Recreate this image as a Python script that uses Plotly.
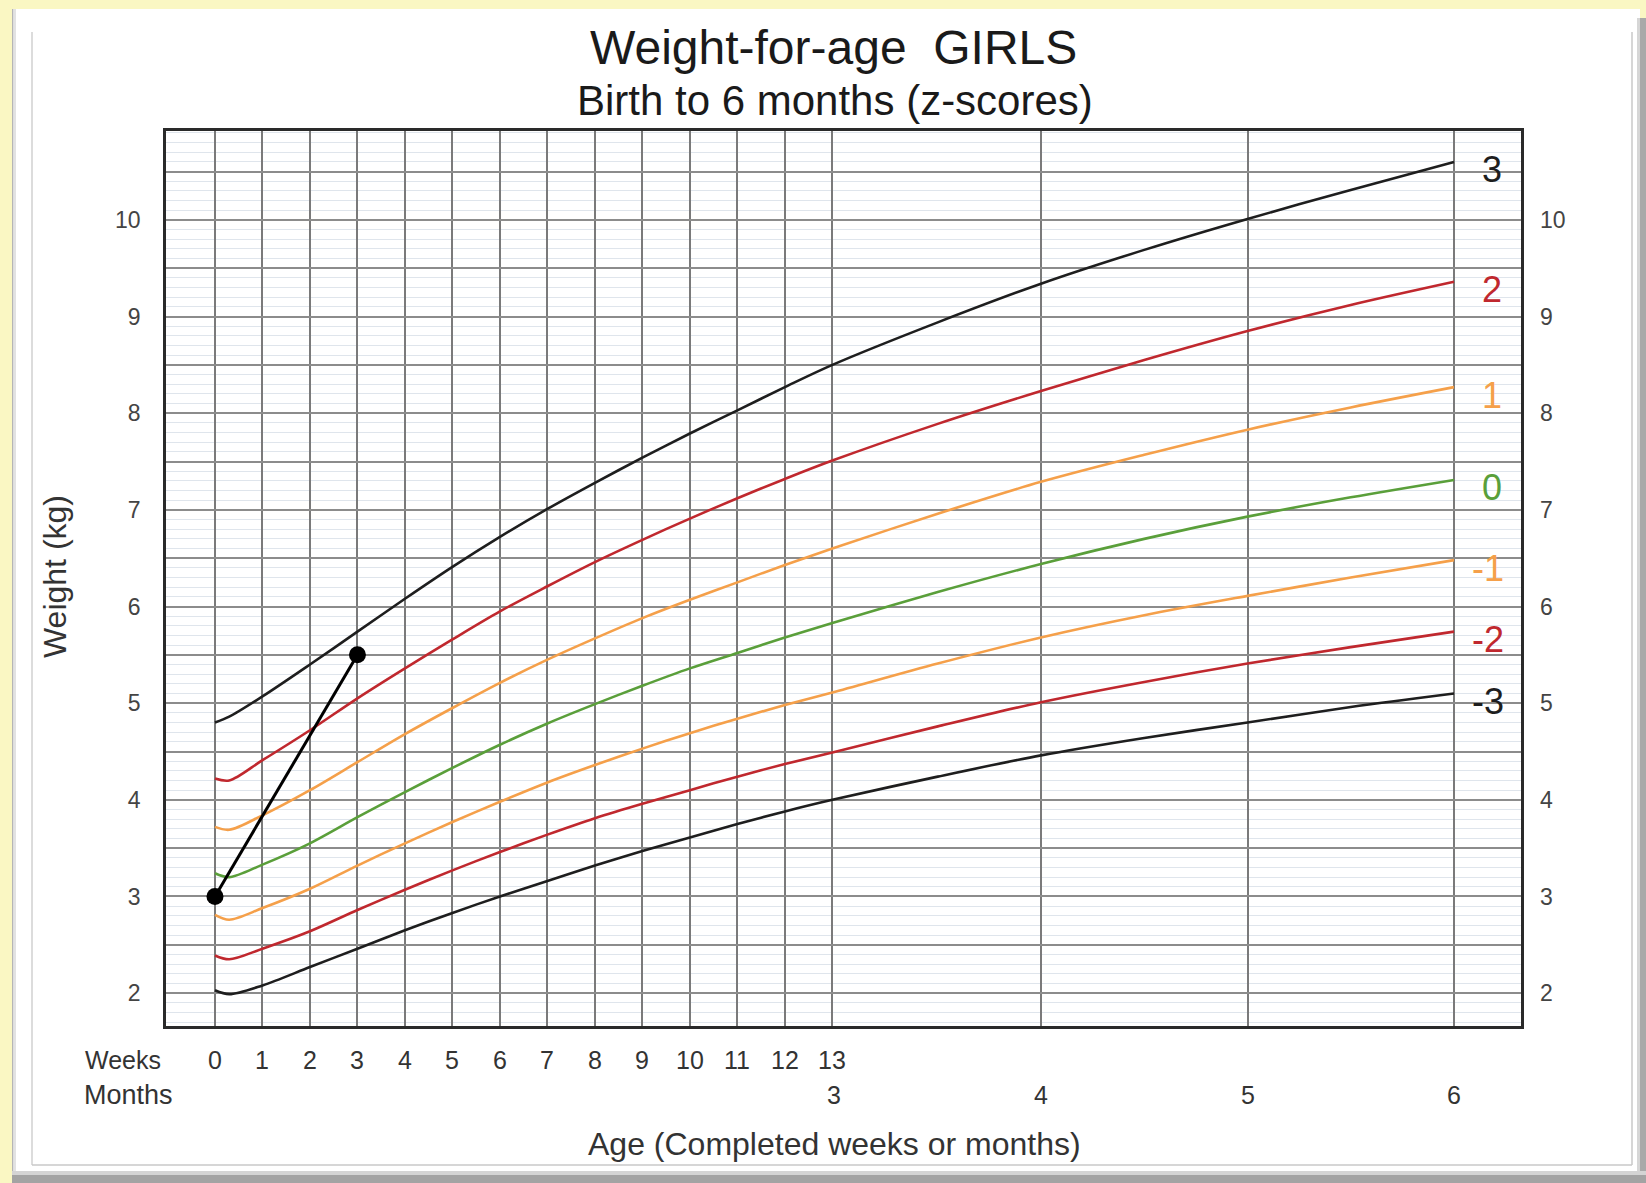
import plotly.graph_objects as go

# ---------------- data ----------------
DAYS_PER_WEEK = 7
DAYS_PER_MONTH = 30.4375

week_ticks = list(range(0, 14))          # week grid / labels
month_ticks = [3, 4, 5, 6]               # month labels
month_grid = [4, 5, 6]                   # extra month grid lines

curve_weeks = [0, 0.3, 1, 2, 3, 4, 5, 6, 7, 8, 9, 10, 11, 12, 13]
curve_months = [3.5, 4, 4.5, 5, 5.5, 6]

z_labels = ["3", "2", "1", "0", "-1", "-2", "-3"]
z_colors = ["#1e1e1e", "#c0282e", "#f5a04a", "#5a9f3a", "#f5a04a", "#c0282e", "#1e1e1e"]

sd3 = [4.80, 4.86, 5.07, 5.40, 5.74, 6.08, 6.41, 6.72, 7.01, 7.28, 7.54, 7.79, 8.03, 8.27, 8.50, 8.94, 9.34, 9.69, 10.01, 10.31, 10.60]
sd2 = [4.22, 4.20, 4.41, 4.72, 5.05, 5.36, 5.66, 5.95, 6.21, 6.46, 6.69, 6.91, 7.12, 7.32, 7.51, 7.89, 8.23, 8.55, 8.85, 9.12, 9.36]
sd1 = [3.72, 3.69, 3.84, 4.10, 4.39, 4.68, 4.95, 5.21, 5.45, 5.67, 5.88, 6.07, 6.25, 6.43, 6.60, 6.96, 7.29, 7.57, 7.83, 8.06, 8.27]
sd0 = [3.24, 3.20, 3.33, 3.55, 3.82, 4.08, 4.33, 4.57, 4.79, 4.99, 5.18, 5.36, 5.52, 5.68, 5.83, 6.15, 6.44, 6.70, 6.93, 7.13, 7.31]
sdm1 = [2.81, 2.76, 2.88, 3.08, 3.32, 3.55, 3.77, 3.98, 4.18, 4.36, 4.53, 4.69, 4.84, 4.98, 5.11, 5.41, 5.68, 5.91, 6.11, 6.30, 6.48]
sdm2 = [2.39, 2.35, 2.46, 2.64, 2.86, 3.07, 3.27, 3.46, 3.64, 3.81, 3.96, 4.10, 4.24, 4.37, 4.49, 4.76, 5.01, 5.22, 5.41, 5.58, 5.74]
sdm3 = [2.03, 1.99, 2.08, 2.27, 2.46, 2.65, 2.83, 3.00, 3.16, 3.32, 3.47, 3.61, 3.75, 3.88, 4.00, 4.24, 4.46, 4.64, 4.80, 4.96, 5.10]
curves = [sd3, sd2, sd1, sd0, sdm1, sdm2, sdm3]

child_weeks = [0, 3]
child_weight = [3.0, 5.5]

y_major = [2, 2.5, 3, 3.5, 4, 4.5, 5, 5.5, 6, 6.5, 7, 7.5, 8, 8.5, 9, 9.5, 10, 10.5]
y_labels = [2, 3, 4, 5, 6, 7, 8, 9, 10]

# ---------------- layout geometry ----------------
W, H = 1646, 1183
L, R, T, B = 166, 1521, 131, 1026


def px(x):
    return (x - L) / (R - L)


def py(y):
    return (B - y) / (B - T)


FONT = "Liberation Sans, Arial, sans-serif"
NARROW = "Liberation Sans Narrow, Arial Narrow, Liberation Sans, Arial, sans-serif"

curve_x = [w * DAYS_PER_WEEK for w in curve_weeks] + [m * DAYS_PER_MONTH for m in curve_months]

fig = go.Figure()
for i, (lab, col, vals) in enumerate(zip(z_labels, z_colors, curves)):
    fig.add_trace(go.Scatter(
        x=curve_x, y=vals, mode="lines",
        line=dict(color=col, width=2.6, shape="spline", smoothing=0.9),
        yaxis="y2" if i == 0 else "y",
        hoverinfo="skip", showlegend=False))

fig.add_trace(go.Scatter(
    x=[w * DAYS_PER_WEEK for w in child_weeks], y=child_weight,
    mode="lines+markers",
    line=dict(color="#000000", width=3),
    marker=dict(color="#000000", size=17),
    showlegend=False, hoverinfo="skip"))

x_grid = [w * DAYS_PER_WEEK for w in week_ticks] + [m * DAYS_PER_MONTH for m in month_grid]
x_range = [-7.22, 192.5]
y_range = [1.66, 10.92]

annotations = []
# z-score labels at curve ends
for lab, col, vals in zip(z_labels, z_colors, curves):
    annotations.append(dict(
        x=curve_months[-1] * DAYS_PER_MONTH, y=vals[-1], xref="x", yref="y",
        text=lab, showarrow=False, xanchor="center", yanchor="middle",
        xshift=38 if not lab.startswith("-") else 34, yshift=-8,
        font=dict(family=FONT, size=36, color=col)))

# week labels
for w in week_ticks:
    annotations.append(dict(
        x=w * DAYS_PER_WEEK, y=py(1060), xref="x", yref="paper",
        text=str(w), showarrow=False, xanchor="center", yanchor="middle",
        font=dict(family=NARROW, size=25, color="#333333")))
# month labels
for m in month_ticks:
    annotations.append(dict(
        x=m * DAYS_PER_MONTH, y=py(1095), xref="x", yref="paper",
        text=str(m), showarrow=False, xanchor="center", yanchor="middle",
        font=dict(family=NARROW, size=25, color="#333333")))

annotations += [
    dict(x=px(163), y=py(1060), xref="paper", yref="paper", text="Weeks",
         showarrow=False, xanchor="right", yanchor="middle",
         font=dict(family=FONT, size=25, color="#333333")),
    dict(x=px(175), y=py(1095), xref="paper", yref="paper", text="Months",
         showarrow=False, xanchor="right", yanchor="middle",
         font=dict(family=FONT, size=27, color="#333333")),
    dict(x=px(834), y=py(1144), xref="paper", yref="paper",
         text="Age (Completed weeks or months)",
         showarrow=False, xanchor="center", yanchor="middle",
         font=dict(family=FONT, size=32, color="#333333")),
    dict(x=px(55), y=py(577), xref="paper", yref="paper", text="Weight (kg)",
         showarrow=False, xanchor="center", yanchor="middle", textangle=-90,
         font=dict(family=FONT, size=32, color="#333333")),
    dict(x=px(833), y=py(48), xref="paper", yref="paper", text="Weight-for-age  GIRLS",
         showarrow=False, xanchor="center", yanchor="middle",
         font=dict(family=FONT, size=48, color="#1a1a1a")),
    dict(x=px(835), y=py(100), xref="paper", yref="paper",
         text="Birth to 6 months (z-scores)",
         showarrow=False, xanchor="center", yanchor="middle",
         font=dict(family=FONT, size=42, color="#1a1a1a")),
]

shapes = [
    # white panel on the yellow background
    dict(type="rect", xref="paper", yref="paper", x0=px(12), x1=px(1640), y0=py(1172), y1=py(9),
         fillcolor="#ffffff", line=dict(width=0), layer="below"),
    # left edge shading
    dict(type="rect", xref="paper", yref="paper", x0=px(12), x1=px(13.5), y0=py(1172), y1=py(9),
         fillcolor="#b5b5b5", line=dict(width=0), layer="below"),
    dict(type="rect", xref="paper", yref="paper", x0=px(13.5), x1=px(16), y0=py(1172), y1=py(9),
         fillcolor="#e2e2e2", line=dict(width=0), layer="below"),
    # right shadow
    dict(type="rect", xref="paper", yref="paper", x0=px(1637), x1=px(1646), y0=py(1183), y1=py(18),
         fillcolor="#a9a9a9", line=dict(width=0), layer="below"),
    dict(type="rect", xref="paper", yref="paper", x0=px(1637), x1=px(1640), y0=py(1183), y1=py(18),
         fillcolor="#d6d6d6", line=dict(width=0), layer="below"),
    # bottom shadow
    dict(type="rect", xref="paper", yref="paper", x0=px(12), x1=px(1646), y0=py(1183), y1=py(1171),
         fillcolor="#a3a3a3", line=dict(width=0), layer="below"),
    dict(type="rect", xref="paper", yref="paper", x0=px(12), x1=px(1646), y0=py(1175), y1=py(1171),
         fillcolor="#d4d4d4", line=dict(width=0), layer="below"),
    # inner thin frame
    dict(type="line", xref="paper", yref="paper", x0=px(32), x1=px(32), y0=py(1165), y1=py(32),
         line=dict(color="#d0d0d0", width=1.5), layer="below"),
    dict(type="line", xref="paper", yref="paper", x0=px(1632), x1=px(1632), y0=py(1165), y1=py(32),
         line=dict(color="#c8c8c8", width=1.5), layer="below"),
    dict(type="line", xref="paper", yref="paper", x0=px(32), x1=px(1632), y0=py(1165), y1=py(1165),
         line=dict(color="#c8c8c8", width=1.5), layer="below"),
]

fig.update_layout(
    width=W, height=H,
    margin=dict(l=L, r=W - R, t=T, b=H - B, pad=0),
    paper_bgcolor="#faf7c3",
    plot_bgcolor="#ffffff",
    showlegend=False,
    xaxis=dict(
        range=x_range, tickmode="array", tickvals=x_grid, showticklabels=False,
        ticks="", showgrid=True, gridcolor="#7a7a7a", gridwidth=2,
        zeroline=False, showline=True, mirror=True, linecolor="#2a2a2a", linewidth=2.5,
    ),
    yaxis=dict(
        range=y_range, tickmode="array", tickvals=y_major,
        ticktext=[str(int(v)) if v in y_labels else "" for v in y_major],
        ticks="", ticklabelstandoff=18,
        tickfont=dict(family=FONT, size=23, color="#444444"),
        showgrid=True, gridcolor="#8c8c8c", gridwidth=2,
        minor=dict(tickmode="linear", tick0=0, dtick=0.1, showgrid=True,
                   gridcolor="#dfe5ec", gridwidth=1, ticks=""),
        zeroline=False, showline=True, mirror=True, linecolor="#2a2a2a", linewidth=2.5,
    ),
    yaxis2=dict(
        range=y_range, overlaying="y", side="right", matches="y",
        tickmode="array", tickvals=y_labels, ticktext=[str(v) for v in y_labels],
        ticks="", ticklabelstandoff=18,
        tickfont=dict(family=FONT, size=23, color="#444444"),
        showgrid=False, zeroline=False, showline=False,
    ),
    annotations=annotations,
    shapes=shapes,
)

fig.write_html(
    "out.html",
    config={"displayModeBar": False},
    post_script="document.body.style.margin='0px';document.body.style.overflow='hidden';"
                "document.body.style.background='#faf7c3';",
)
